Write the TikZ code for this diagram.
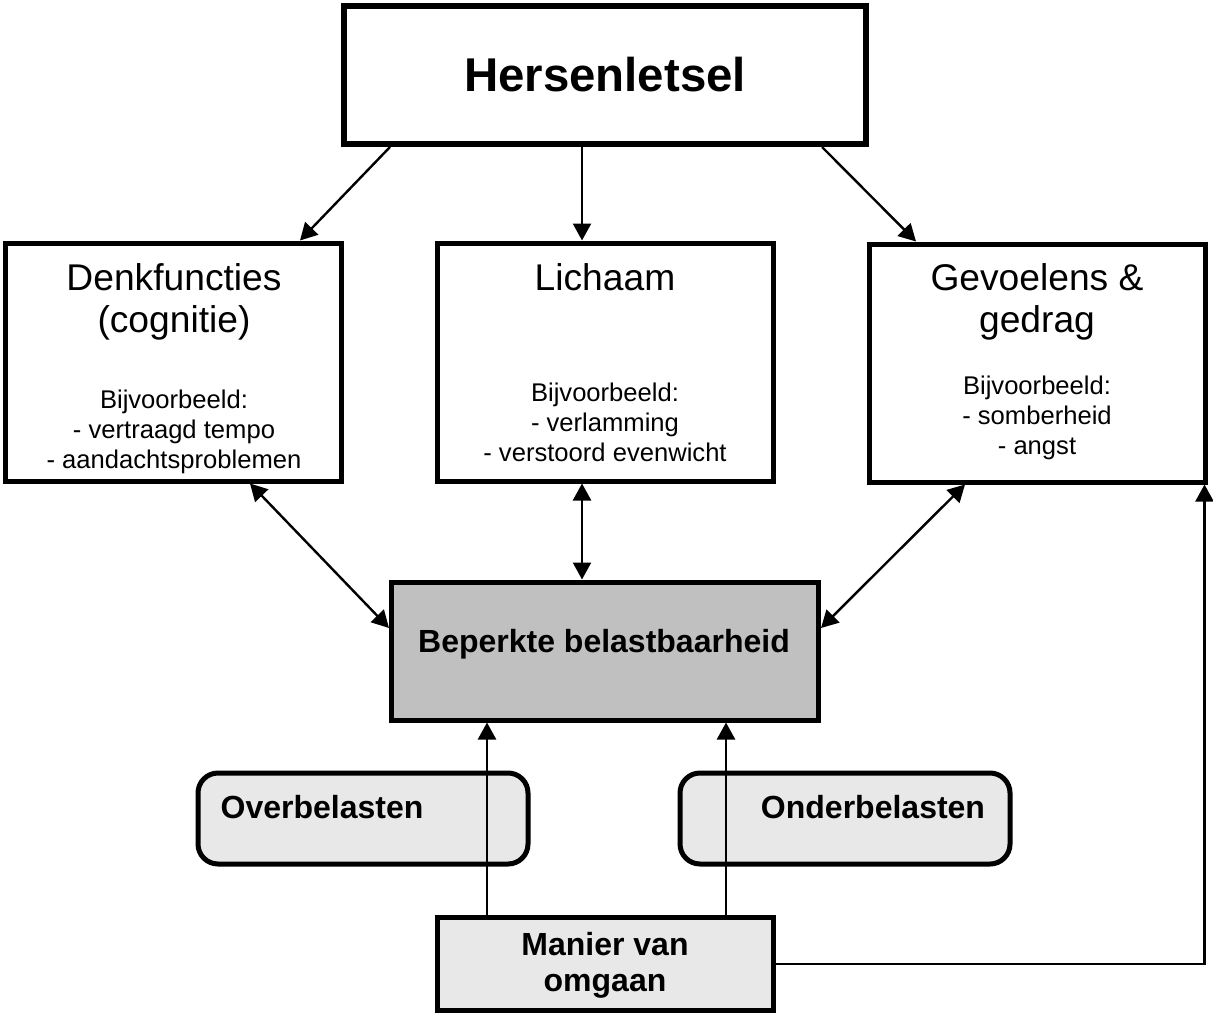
\documentclass[tikz,border=0pt]{standalone}
\usepackage{fontspec}
\setmainfont{Liberation Sans}
\usetikzlibrary{arrows.meta}
\definecolor{midgrey}{HTML}{C0C0C0}
\definecolor{panelgrey}{HTML}{E8E8E8}

\begin{document}
\begin{tikzpicture}
	% brain injury model: three domains around limited load capacity
	[x=0.5pt,y=-0.5pt,
	box/.style={draw,line width=2.5pt,minimum width=168pt,minimum height=119pt,inner sep=0pt},
	soft/.style={draw,line width=2.5pt,fill=panelgrey,rounded corners=10pt,minimum width=165pt,minimum height=45.5pt},
	title/.style={align=center,inner sep=0pt,font=\fontsize{18.6}{21}\selectfont},
	example/.style={align=center,inner sep=0pt,font=\fontsize{12.8}{15}\selectfont},
	boldtext/.style={align=center,inner sep=0pt,font=\bfseries\fontsize{16}{18}\selectfont},
	conn/.style={line width=1.2pt},
	>={Triangle[length=8.5pt,width=9pt]}]
	\useasboundingbox (0,0) rectangle (1213,1016);

	\node[box,line width=3pt,minimum width=261pt,minimum height=69pt,font=\bfseries\fontsize{23.7}{28}\selectfont] (hers) at (605,75) {Hersenletsel};
	\node[box] (denk) at (173,362) {};
	\node[box] (lich) at (605,362) {};
	\node[box] (gev) at (1037,363) {};
	\node[box,fill=midgrey,minimum width=213.5pt,minimum height=69pt] (bep) at (605,651) {};
	\node[soft] (over) at (363,818.5) {};
	\node[soft] (onder) at (845,818.5) {};
	\node[box,fill=panelgrey,minimum height=46.5pt] (omgaan) at (605,964) {};

	\node[title,anchor=north] (denkt) at (174,263) {Denkfuncties\\(cognitie)};
	\node[example,anchor=north] (denkv) at (174,390) {Bijvoorbeeld:\\- vertraagd tempo\\- aandachtsproblemen};
	\node[title,anchor=north] (licht) at (605,263) {Lichaam};
	\node[example,anchor=north] (lichv) at (605,383) {Bijvoorbeeld:\\- verlamming\\- verstoord evenwicht};
	\node[title,anchor=north] (gevt) at (1037,263) {Gevoelens \&\\gedrag};
	\node[example,anchor=north] (gevv) at (1037,376) {Bijvoorbeeld:\\- somberheid\\- angst};

	\node[boldtext,anchor=base] (bept) at (604,652) {Beperkte belastbaarheid};
	\node[boldtext,anchor=base] (overt) at (322,818) {Overbelasten};
	\node[boldtext,anchor=base] (ondert) at (873,818) {Onderbelasten};
	\node[boldtext,anchor=north] (omgaant) at (605,932) {Manier van\\omgaan};

	\draw[conn,->] ([xshift=-107.5pt]hers.south) -- ([xshift=63.5pt]denk.north);
	\draw[conn,->] ([xshift=-11.5pt]hers.south) -- ([xshift=-11.5pt]lich.north);
	\draw[conn,->] ([xshift=108.5pt]hers.south) -- ([xshift=-60.5pt]gev.north);

	\draw[conn,<->] ([xshift=38.5pt]denk.south) -- ([yshift=11.5pt]bep.west);
	\draw[conn,<->] ([xshift=-11.5pt]lich.south) -- ([xshift=-11.5pt]bep.north);
	\draw[conn,<->] ([xshift=-36pt]gev.south) -- ([yshift=11.5pt]bep.east);

	\draw[conn,->] ([xshift=-59pt]omgaan.north) -- ([xshift=-59pt]bep.south);
	\draw[conn,->] ([xshift=60.5pt]omgaan.north) -- ([xshift=60.5pt]bep.south);
	\draw[conn,->] (omgaan.east) -| ([xshift=-1.5pt]gev.south east);
\end{tikzpicture}
\end{document}
